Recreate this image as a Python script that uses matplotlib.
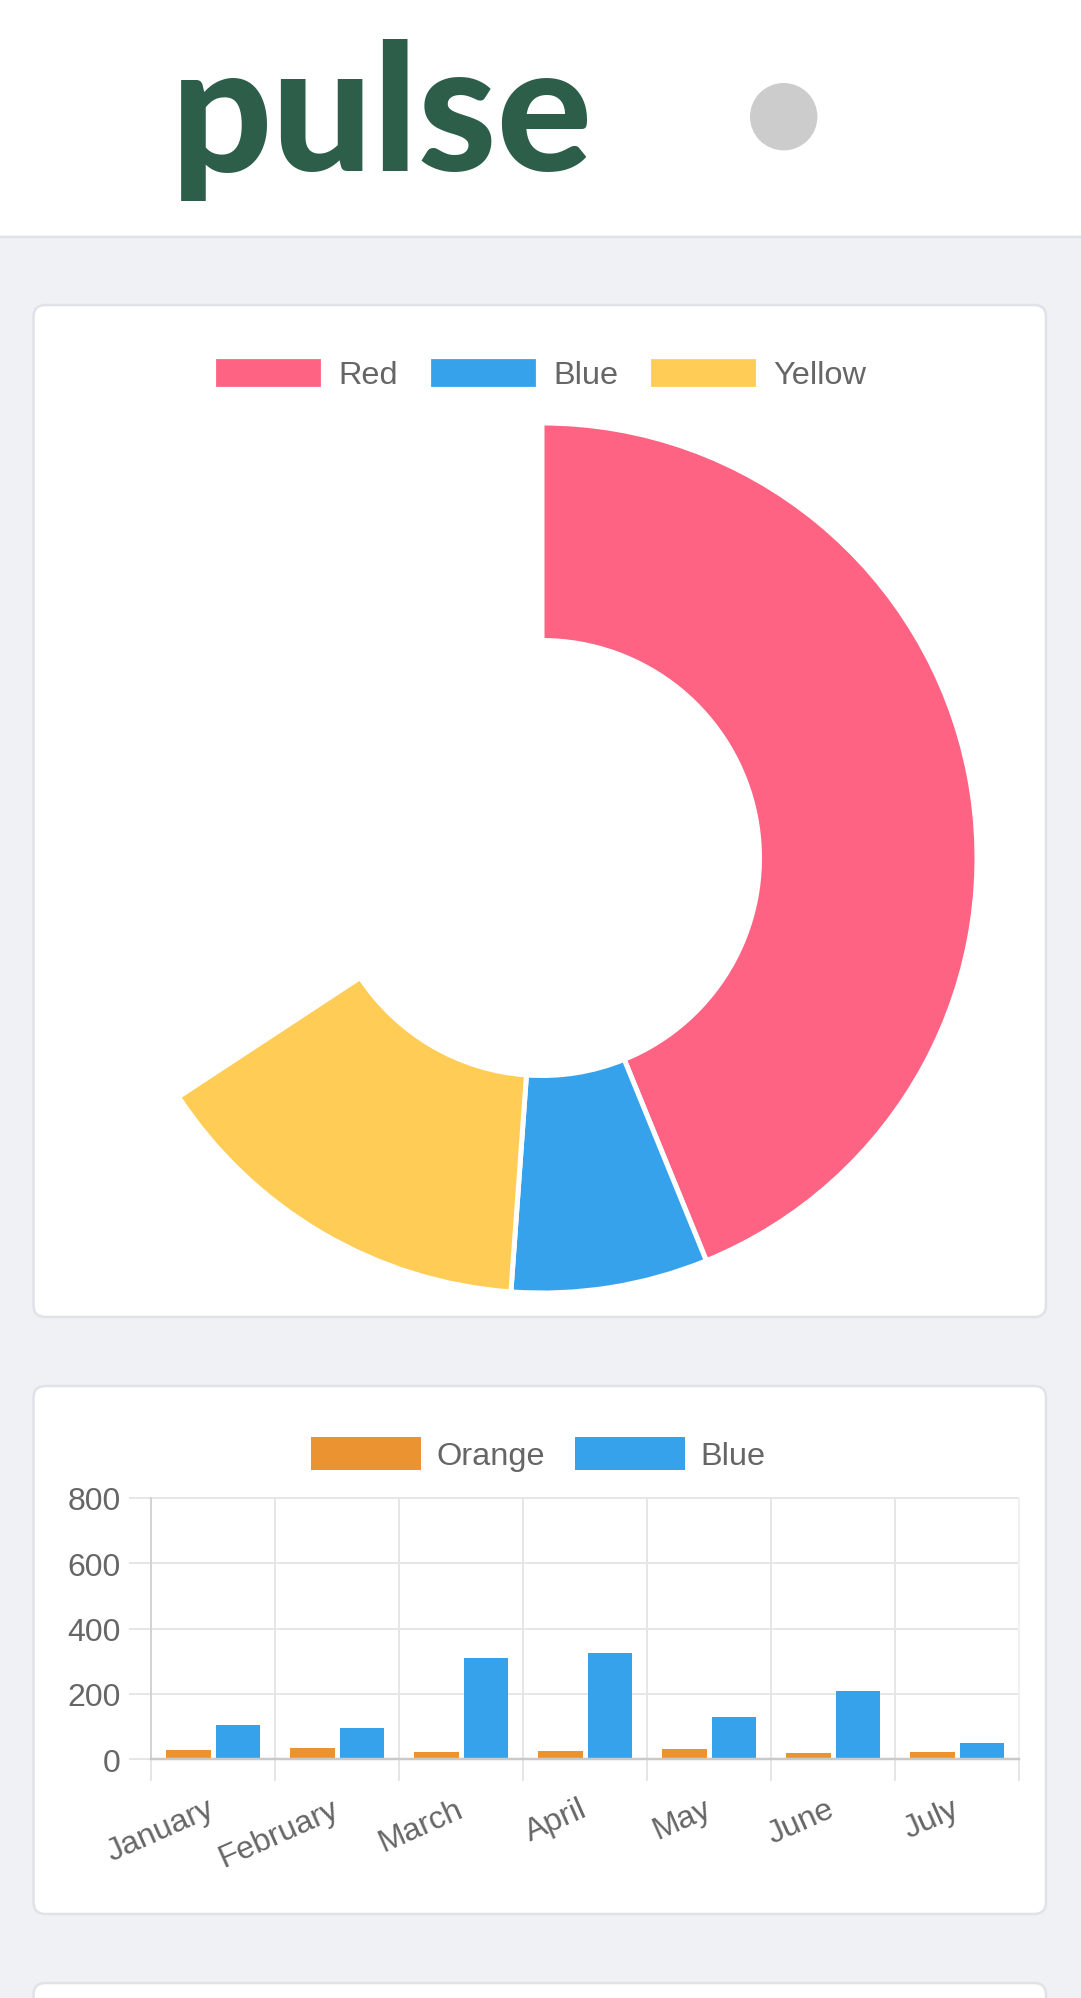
import numpy as np
import matplotlib

matplotlib.use('Agg')

import matplotlib.pyplot as plt
from matplotlib.patches import FancyBboxPatch, Rectangle, Circle

W, H = 1081, 1999
DPI = 100
PT = 72 / DPI   # points per pixel

'''data'''
donut_labels = ['Red', 'Blue', 'Yellow']
donut_values = [300, 50, 100]
donut_colors = ['#ff6384', '#36a2eb', '#ffcd56']
DONUT_SWEEP = 236.7   # degrees the doughnut actually covers in the screenshot

months = ['January', 'February', 'March', 'April', 'May', 'June', 'July']
orange_values = [27, 34, 22, 25, 31, 18, 20]
blue_values = [104, 96, 309, 324, 130, 208, 49]
bar_labels = ['Orange', 'Blue']
bar_colors = ['#ec9331', '#36a2eb']
y_ticks = [0, 200, 400, 600, 800]

'''style'''
TXT = '#666666'
GRID = '#e6e6e6'
ZERO = '#c9c9c9'
FONT = 'Liberation Sans'
FS = 32 * PT
FS_LEG = 32.5 * PT

fig = plt.figure(figsize=(W / DPI, H / DPI), dpi=DPI)

# page background, drawn in pixel coordinates
bg = fig.add_axes([0, 0, 1, 1])
bg.set_xlim(0, W)
bg.set_ylim(H, 0)
bg.axis('off')

def px_axes(x0, y0, x1, y1):
    return fig.add_axes([x0 / W, 1 - y1 / H, (x1 - x0) / W, (y1 - y0) / H])

bg.add_patch(Rectangle((0, 0), W, H, color='#eff1f5', zorder=0))
bg.add_patch(Rectangle((0, 0), W, 237, color='white', zorder=1))
bg.plot([0, W], [237.5, 237.5], color='#dee2e6', lw=2.5 * PT, zorder=2)

for top, bottom in [(306, 1318), (1387, 1915), (1984, 2080)]:
    bg.add_patch(FancyBboxPatch((33.5, top), 1046 - 33.5, bottom - top,
                                boxstyle='round,pad=0,rounding_size=12',
                                fc='white', ec='#dfe2e7', lw=2.5 * PT, zorder=2))

# header
bg.text(171, 171, 'pulse', family='Lato', fontweight='black', fontsize=178 * PT,
        color='#2c5e4a', ha='left', va='baseline', zorder=3)
bg.add_patch(Circle((783.7, 117.7), 33, color='#cccccc', zorder=3))

def legend_row(labels, colors, box_lefts, y_mid, edge=None):
    for lab, col, x in zip(labels, colors, box_lefts):
        if edge:
            bg.add_patch(Rectangle((x, y_mid - 16.5), 110, 33, fc=col, ec=edge,
                                   lw=5.2 * PT, zorder=3))
        else:
            bg.add_patch(Rectangle((x, y_mid - 16.5), 110, 33, fc=col, lw=0, zorder=3))
        bg.text(x + 110 + 15.6, y_mid + 10, lab, family=FONT, fontsize=FS_LEG,
                color=TXT, ha='left', va='baseline', zorder=3)

# doughnut card
legend_row(donut_labels, donut_colors, [213, 427.5, 647.5], 373.5, edge='white')

cx, cy, R = 542, 859, 435
pax = px_axes(cx - 450, cy - 450, cx + 450, cy + 450)
total = sum(donut_values)
fracs = [v / total * DONUT_SWEEP / 360 for v in donut_values]
pax.pie(fracs, colors=donut_colors, startangle=90, counterclock=False,
        normalize=False, radius=R,
        wedgeprops=dict(width=R / 2, edgecolor='white', linewidth=5 * PT))
pax.set_xlim(-450, 450)
pax.set_ylim(-450, 450)
pax.axis('off')

# bar card
legend_row(bar_labels, bar_colors, [311, 575], 1454.7)

bax = px_axes(151, 1499, 1019.3, 1760)
x = np.arange(len(months))
bax.bar(x - 0.2, orange_values, 0.36, color=bar_colors[0], zorder=3)
bax.bar(x + 0.2, blue_values, 0.36, color=bar_colors[1], zorder=3)
bax.set_xlim(-0.5, len(months) - 0.5)
bax.set_ylim(0, 800)
bax.patch.set_alpha(0)
for s in bax.spines.values():
    s.set_visible(False)

bax.set_yticks(y_ticks)
bax.set_yticklabels([str(v) for v in y_ticks], family=FONT)
bax.tick_params(axis='y', length=21.7 * PT, width=2 * PT, color=GRID, pad=8.6 * PT,
                labelsize=FS, labelcolor=TXT)
bax.yaxis.grid(True, color=GRID, lw=2 * PT, zorder=1)

bax.set_xticks(x)
bax.set_xticklabels(months, rotation=24, ha='right', va='center',
                    rotation_mode='anchor', family=FONT)
bax.set_xticks(np.arange(-0.5, len(months), 1), minor=True)
bax.tick_params(axis='x', which='major', length=0, pad=48 * PT,
                labelsize=FS, labelcolor=TXT)
bax.tick_params(axis='x', which='minor', length=22 * PT, width=2 * PT, color=GRID)
bax.xaxis.grid(True, which='minor', color=GRID, lw=2 * PT, zorder=1)
bax.set_axisbelow(True)

bax.axhline(800, color=GRID, lw=2 * PT, clip_on=False, zorder=1)
bax.axhline(0, color=ZERO, lw=2.5 * PT, clip_on=False, zorder=4)
bax.axvline(-0.5, color='#d3d3d3', lw=2 * PT, clip_on=False, zorder=1)
bax.axvline(len(months) - 0.5, color='#f0f0f0', lw=2 * PT, clip_on=False, zorder=1)
bax.yaxis.get_major_ticks()[0].tick1line.set_color(ZERO)
bax.xaxis.get_minor_ticks()[0].tick1line.set_color('#d3d3d3')
bax.xaxis.get_minor_ticks()[-1].tick1line.set_color('#f0f0f0')

fig.savefig('out.png', dpi=DPI)
